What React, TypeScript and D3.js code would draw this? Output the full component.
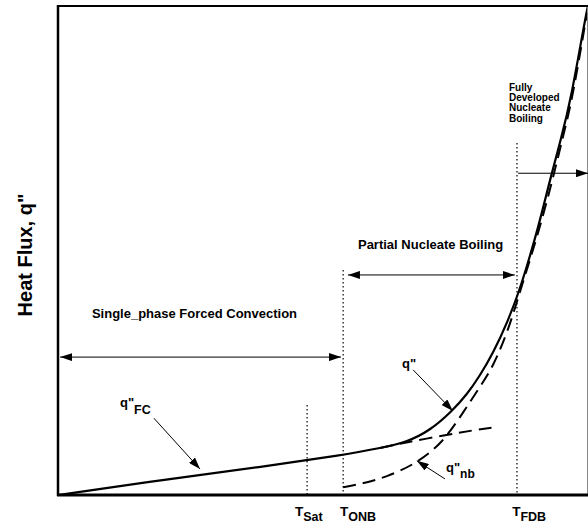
import React from "react";
import * as d3 from "d3";

// Boiling curve: wall superheat (arbitrary units) vs. heat flux (arbitrary units)
const superheatFC = [0, 21.1, 38.1, 53.8, 60.8, 65.8, 73.4, 78.7, 82.6];
const fluxFC = [0, 3.3, 5.7, 8.2, 9.6, 10.8, 12.3, 13.3, 13.9];

const superheatTotal = [0, 21.1, 38.1, 53.8, 60.8, 65.8, 70.2, 74.3, 77.2, 79.6, 82.1, 84.9, 86.8, 88.1, 90.6, 93.0, 94.9, 96.8, 99.4, 100.4];
const fluxTotal = [0, 3.3, 5.7, 8.2, 9.6, 10.8, 13.2, 17.1, 20.6, 24.4, 29.0, 35.6, 41.1, 45.4, 54.6, 65.2, 72.8, 81.0, 97.1, 102.2];

const superheatNB = [53.8, 57.0, 62.1, 67.7, 72.5, 76.4, 79.6, 82.1, 85.2, 87.4, 90.5, 93.4, 95.3, 97.1, 99.9];
const fluxNB = [1.6, 2.2, 3.7, 6.5, 10.6, 16.8, 22.1, 26.2, 34.4, 42.5, 53.0, 64.8, 73.4, 81.2, 99.2];

// Characteristic temperatures and the tops of their guide lines
const markerNames = ["Sat", "ONB", "FDB"];
const markerSuperheat = [47.0, 53.8, 86.6];
const markerTop = [18.4, 46.0, 72.0];
const markerLabelX = [44.7, 53.2, 85.7];

// Onset of the departure of q" from the forced-convection line
const departureSuperheat = 64.5;

const W = 588;
const H = 529;
const FONT = "'Liberation Sans', Arial, Helvetica, sans-serif";

export default function App() {
  const x = d3.scaleLinear().domain([0, 100]).range([58, 588]);
  const y = d3.scaleLinear().domain([0, 100]).range([495, 6]);

  const toPts = (xs: number[], ys: number[]) => xs.map((v, i) => [v, ys[i]] as [number, number]);
  const line = d3
    .line<[number, number]>()
    .x((d) => x(d[0]))
    .y((d) => y(d[1]))
    .curve(d3.curveBasis);

  const fcPts = toPts(superheatFC, fluxFC).filter((d) => d[0] >= departureSuperheat - 4);
  const totalPts = toPts(superheatTotal, fluxTotal);
  const nbPts = toPts(superheatNB, fluxNB);

  const arrow = (x1: number, y1: number, x2: number, y2: number, both = false) => (
    <line
      x1={x(x1)}
      y1={y(y1)}
      x2={x(x2)}
      y2={y(y2)}
      stroke="#000"
      strokeWidth={1}
      markerEnd="url(#head)"
      markerStart={both ? "url(#headStart)" : undefined}
    />
  );

  const bold = { fontFamily: FONT, fontWeight: 700, fill: "#000" } as const;

  return (
    <svg width={W} height={H} style={{ position: "absolute", left: 0, top: 0, background: "#fff" }}>
      <defs>
        <clipPath id="plotClip">
          <rect x={58} y={6} width={530} height={489} />
        </clipPath>
        <marker id="head" viewBox="0 0 12 8" refX={12} refY={4} markerWidth={12} markerHeight={8} markerUnits="userSpaceOnUse" orient="auto">
          <path d="M0,0 L12,4 L0,8 Z" fill="#000" />
        </marker>
        <marker id="headStart" viewBox="0 0 12 8" refX={0} refY={4} markerWidth={12} markerHeight={8} markerUnits="userSpaceOnUse" orient="auto">
          <path d="M12,0 L0,4 L12,8 Z" fill="#000" />
        </marker>
      </defs>

      {/* guide lines at the characteristic temperatures */}
      {markerSuperheat.map((t, i) => (
        <line key={markerNames[i]} x1={x(t)} x2={x(t)} y1={y(markerTop[i])} y2={y(0)} stroke="#000" strokeWidth={1.2} strokeDasharray="1.5,2.5" />
      ))}

      <g clipPath="url(#plotClip)">
        {/* forced-convection extrapolation */}
        <path d={line(fcPts) ?? ""} fill="none" stroke="#000" strokeWidth={2} strokeDasharray="13,7" />
        {/* nucleate-boiling component */}
        <path d={line(nbPts) ?? ""} fill="none" stroke="#000" strokeWidth={2} strokeDasharray="13,7" />
        {/* total heat flux */}
        <path d={line(totalPts) ?? ""} fill="none" stroke="#000" strokeWidth={2.2} />
      </g>

      {/* frame */}
      <line x1={587.5} x2={587.5} y1={6} y2={495} stroke="#888" strokeWidth={1} />
      <line x1={58} x2={588} y1={6} y2={6} stroke="#000" strokeWidth={2.2} />
      <line x1={58} x2={58} y1={5} y2={496} stroke="#000" strokeWidth={2.5} />
      <line x1={57} x2={588} y1={495} y2={495} stroke="#000" strokeWidth={2.8} />

      {/* regime spans */}
      {arrow(0.4, 28.2, 53.4, 28.2, true)}
      {arrow(54.7, 45.0, 86.2, 45.0, true)}
      {arrow(86.8, 65.8, 100, 65.8)}

      {/* regime labels */}
      <text x={x(6.4)} y={y(36.2)} fontSize={13} {...bold}>Single_phase Forced Convection</text>
      <text x={x(56.6)} y={y(50.3)} fontSize={13} {...bold}>Partial Nucleate Boiling</text>
      <text x={x(85.1)} y={y(82.6)} fontSize={10} {...bold}>
        {["Fully", "Developed", "Nucleate", "Boiling"].map((s, i) => (
          <tspan key={s} x={x(85.1)} dy={i === 0 ? 0 : 10.2}>{s}</tspan>
        ))}
      </text>

      {/* curve labels and leaders */}
      <text x={x(11.7)} y={y(18.0)} fontSize={13} {...bold}>
        q"<tspan fontSize={12.5} dy={7}>FC</tspan>
      </text>
      {arrow(18.1, 15.7, 26.8, 5.3)}

      <text x={x(64.9)} y={y(26.0)} fontSize={13} {...bold}>q"</text>
      {arrow(67.0, 25.6, 74.5, 17.2)}

      <text x={x(73.2)} y={y(4.7)} fontSize={13} {...bold}>
        q"<tspan fontSize={12} dy={6}>nb</tspan>
      </text>
      {arrow(73.0, 3.3, 67.7, 7.0)}

      {/* temperature labels */}
      {markerNames.map((n, i) => (
        <text key={n} x={x(markerLabelX[i])} y={516} fontSize={13.5} {...bold}>
          T<tspan fontSize={12.5} dy={5}>{n}</tspan>
        </text>
      ))}

      {/* axis title */}
      <text transform="translate(32,255) rotate(-90)" textAnchor="middle" fontSize={20} {...bold}>
        Heat Flux, q"
      </text>
    </svg>
  );
}
